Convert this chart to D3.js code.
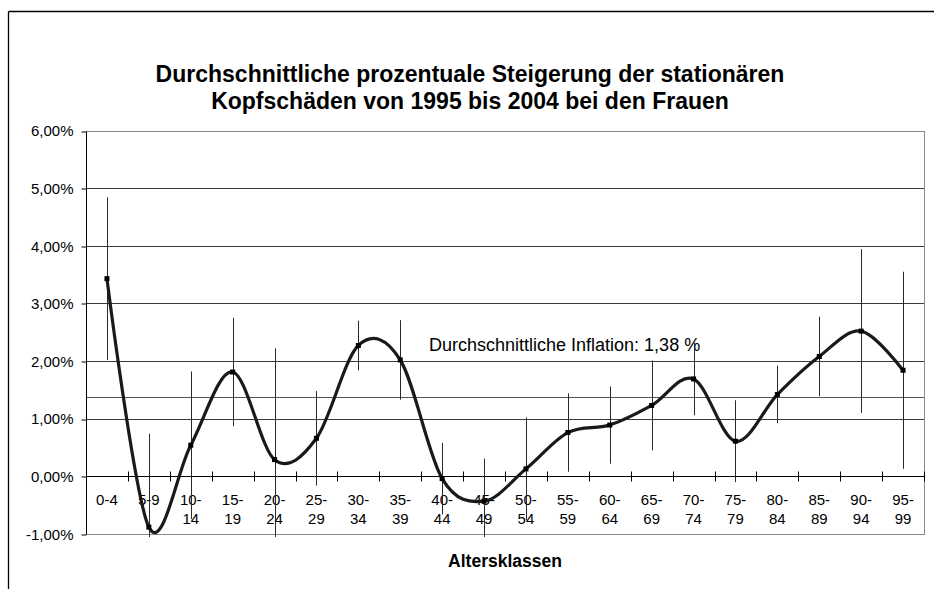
<!DOCTYPE html>
<html>
<head>
<meta charset="utf-8">
<script src="https://cdn.jsdelivr.net/npm/d3@7"></script>
<style>
  html, body { margin: 0; padding: 0; background: #fff; }
  svg { display: block; font-family: "Liberation Sans", Arial, sans-serif; }
</style>
</head>
<body>
<svg id="chart" width="934" height="589"></svg>
<script>
// ---- data ----
const categories = ["0-4","5-9","10-14","15-19","20-24","25-29","30-34","35-39","40-44","45-49",
                    "50-54","55-59","60-64","65-69","70-74","75-79","80-84","85-89","90-94","95-99"];
const xTickLabels = [["0-4"],["5-9"],["10-","14"],["15-","19"],["20-","24"],["25-","29"],["30-","34"],
                     ["35-","39"],["40-","44"],["45-","49"],["50-","54"],["55-","59"],["60-","64"],
                     ["65-","69"],["70-","74"],["75-","79"],["80-","84"],["85-","89"],["90-","94"],["95-","99"]];
const values = [3.43, -0.88, 0.54, 1.81, 0.29, 0.66, 2.27, 2.02, -0.04, -0.43,
                0.13, 0.76, 0.89, 1.23, 1.69, 0.61, 1.42, 2.08, 2.52, 1.84];
const errors = [1.41, 1.62, 1.28, 0.94, 1.93, 0.82, 0.43, 0.69, 0.62, 0.74,
                0.89, 0.68, 0.67, 0.78, 0.63, 0.71, 0.50, 0.69, 1.42, 1.71];
const yTicks = [-1, 0, 1, 2, 3, 4, 5, 6];
const yTickLabels = ["-1,00%","0,00%","1,00%","2,00%","3,00%","4,00%","5,00%","6,00%"];
const inflation = 1.38;
const inflationLabel = "Durchschnittliche Inflation: 1,38 %";
const titleLines = ["Durchschnittliche prozentuale Steigerung der stationären",
                    "Kopfschäden von 1995 bis 2004 bei den Frauen"];
const xAxisTitle = "Altersklassen";

// ---- layout ----
const svg = d3.select("#chart");
const L = 86, R = 924, T = 130.5, B = 534;
const x = d3.scaleBand().domain(categories).range([L, R]);
const y = d3.scaleLinear().domain([-1, 6]).range([B, T]);
const cx = c => x(c) + x.bandwidth() / 2;
const snap = v => Math.round(v) + 0.5;

// outer frame (partially visible)
svg.append("line").attr("x1", 8.5).attr("x2", 934).attr("y1", 11.5).attr("y2", 11.5)
  .attr("stroke", "#000").attr("stroke-width", 1.3);
svg.append("line").attr("x1", 8.5).attr("x2", 8.5).attr("y1", 11.5).attr("y2", 589)
  .attr("stroke", "#000").attr("stroke-width", 1.3);

// title
const title = svg.append("text").attr("text-anchor", "middle")
  .attr("font-weight", "bold").attr("font-size", 23).attr("fill", "#000");
titleLines.forEach((t, i) => {
  title.append("tspan").attr("x", 470).attr("y", 82 + i * 26.5).text(t);
});

// gridlines
svg.append("g").selectAll("line").data(yTicks.filter(v => v > -1 && v < 6 && v !== 0)).join("line")
  .attr("x1", L).attr("x2", R)
  .attr("y1", d => snap(y(d))).attr("y2", d => snap(y(d)))
  .attr("stroke", "#3a3a3a").attr("stroke-width", 1);

// plot border (gray)
svg.append("rect").attr("x", L + 0.5).attr("y", snap(y(6)))
  .attr("width", R - L).attr("height", snap(y(-1)) - snap(y(6)))
  .attr("fill", "none").attr("stroke", "#8a8a8a").attr("stroke-width", 1);

// inflation line
svg.append("line").attr("x1", L).attr("x2", R)
  .attr("y1", snap(y(inflation))).attr("y2", snap(y(inflation)))
  .attr("stroke", "#555").attr("stroke-width", 1);

// inflation label
svg.append("text").attr("x", 429).attr("y", 350.5)
  .attr("font-size", 18).attr("fill", "#000").text(inflationLabel);

// y axis
const yAxis = d3.axisLeft(y).tickValues(yTicks)
  .tickFormat((d, i) => yTickLabels[i]).tickSize(5).tickPadding(8);
const yg = svg.append("g").attr("transform", `translate(${L + 0.5},0)`).call(yAxis);
yg.select(".domain").remove();
yg.selectAll(".tick line").attr("stroke", "#000")
  .attr("transform", d => `translate(0,${snap(y(d)) - y(d)})`);
yg.selectAll(".tick text").attr("font-size", 15).attr("font-family", "Liberation Sans, Arial, sans-serif")
  .attr("fill", "#000").attr("dy", "0.35em");
svg.append("line").attr("x1", L + 0.5).attr("x2", L + 0.5).attr("y1", snap(y(6))).attr("y2", snap(y(-1)))
  .attr("stroke", "#000").attr("stroke-width", 1);

// x axis at 0
const y0 = snap(y(0));
svg.append("line").attr("x1", L).attr("x2", R + 1).attr("y1", y0).attr("y2", y0)
  .attr("stroke", "#000").attr("stroke-width", 1);
const bounds = d3.range(categories.length + 1).map(i => L + i * x.bandwidth());
svg.append("g").selectAll("line").data(bounds).join("line")
  .attr("x1", d => snap(d)).attr("x2", d => snap(d))
  .attr("y1", y0 - 5).attr("y2", y0 + 5)
  .attr("stroke", "#000").attr("stroke-width", 1);

// x tick labels
const xl = svg.append("g").attr("font-size", 15).attr("fill", "#000").attr("text-anchor", "middle");
categories.forEach((c, i) => {
  const t = xl.append("text");
  xTickLabels[i].forEach((s, j) => {
    t.append("tspan").attr("x", cx(c)).attr("y", 505 + j * 18.5).text(s);
  });
});

// x axis title
svg.append("text").attr("x", (L + R) / 2).attr("y", 567).attr("text-anchor", "middle")
  .attr("font-weight", "bold").attr("font-size", 17.5).attr("fill", "#000").text(xAxisTitle);

// error bars (clipped to plot)
svg.append("clipPath").attr("id", "clip").append("rect")
  .attr("x", L).attr("y", T).attr("width", R - L).attr("height", B - T + 3);
svg.append("g").attr("clip-path", "url(#clip)").selectAll("line")
  .data(categories).join("line")
  .attr("x1", (c) => snap(cx(c))).attr("x2", (c) => snap(cx(c)))
  .attr("y1", (c, i) => y(values[i] + errors[i]))
  .attr("y2", (c, i) => y(values[i] - errors[i]))
  .attr("stroke", "#2a2a2a").attr("stroke-width", 1);

// smoothed line
const line = d3.line()
  .x((d, i) => cx(categories[i]))
  .y(d => y(d))
  .curve(d3.curveCatmullRom.alpha(0));
svg.append("path").datum(values).attr("d", line)
  .attr("fill", "none").attr("stroke", "#1a1a1a").attr("stroke-width", 3.2)
  .attr("stroke-linejoin", "round");

// markers
svg.append("g").selectAll("rect").data(values).join("rect")
  .attr("x", (d, i) => cx(categories[i]) - 2.5)
  .attr("y", d => y(d) - 2.5)
  .attr("width", 5).attr("height", 5).attr("fill", "#000");
</script>
</body>
</html>
